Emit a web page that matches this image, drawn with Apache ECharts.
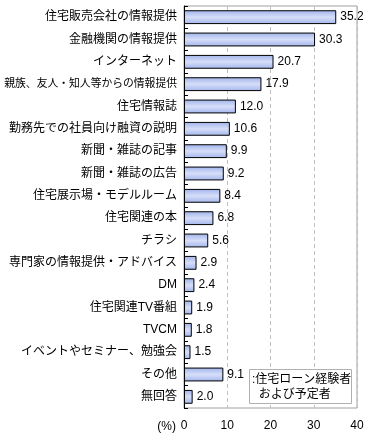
<!DOCTYPE html>
<html><head><meta charset="utf-8">
<script src="https://cdn.jsdelivr.net/npm/echarts@6/dist/echarts.min.js"></script>
<style>html,body{margin:0;padding:0;background:#fff}#c{width:370px;height:440px}</style>
</head><body><div id="c"></div>
<script>
var categories = ["住宅販売会社の情報提供","金融機関の情報提供","インターネット","親族、友人・知人等からの情報提供","住宅情報誌","勤務先での社員向け融資の説明","新聞・雑誌の記事","新聞・雑誌の広告","住宅展示場・モデルルーム","住宅関連の本","チラシ","専門家の情報提供・アドバイス","DM","住宅関連TV番組","TVCM","イベントやセミナー、勉強会","その他","無回答"];
var values = [35.2,30.3,20.7,17.9,12.0,10.6,9.9,9.2,8.4,6.8,5.6,2.9,2.4,1.9,1.8,1.5,9.1,2.0];
var seriesName = "住宅ローン経験者\nおよび予定者";
var unitLabel = "(%)";
var FONT = '"Liberation Sans","Noto Sans CJK JP",sans-serif';
var chart = echarts.init(document.getElementById('c'));
chart.setOption({
  animation:false,
  backgroundColor:'#fff',
  grid:{left:184,right:13,top:6,bottom:32,outerBoundsMode:'none',containLabel:false,show:true,borderColor:'#a0a0a0',borderWidth:1,backgroundColor:'transparent'},
  xAxis:{type:'value',min:0,max:40,interval:10,
    axisLine:{show:false},axisTick:{show:false},
    splitLine:{show:true,lineStyle:{color:'#c0c0c0',type:[4,3]}},
    axisLabel:{color:'#000',fontSize:12,margin:12,fontFamily:FONT}},
  yAxis:{type:'category',data:categories,inverse:true,
    axisLine:{show:true,lineStyle:{color:'#000',width:1}},
    axisTick:{show:true,inside:true,length:4,lineStyle:{color:'#000'}},
    axisLabel:{color:'#000',fontSize:12,margin:7,fontFamily:FONT,
      formatter:function(v){return v.length>14?'{s|'+v+'}':v;},
      rich:{s:{fontSize:10.8,fontFamily:FONT,color:'#000'}}}},
  series:[{type:'bar',name:seriesName,data:values,barWidth:'62%',
    itemStyle:{borderColor:'#000',borderWidth:1,
      color:new echarts.graphic.LinearGradient(0,0,0,1,[
        {offset:0,color:'#9fb2ea'},{offset:0.5,color:'#d6def8'},{offset:1,color:'#a3b5ec'}])},
    label:{show:true,position:'right',distance:4,color:'#000',fontSize:12,fontFamily:FONT,
      formatter:function(p){return p.value.toFixed(1);}}}],
  graphic:[
    {type:'text',x:176,y:421,style:{text:unitLabel,fontSize:12,fill:'#000',fontFamily:FONT,align:'right'}},
    {type:'rect',shape:{x:249.5,y:369.5,width:102,height:34},style:{fill:'#fff',stroke:'#b0b0b0',lineWidth:1},z:10},
    {type:'text',x:252,y:372,z:11,style:{text:':住宅ローン経験者\n  および予定者',fontSize:12,lineHeight:15,fill:'#000',fontFamily:FONT}}
  ]
});
</script></body></html>
